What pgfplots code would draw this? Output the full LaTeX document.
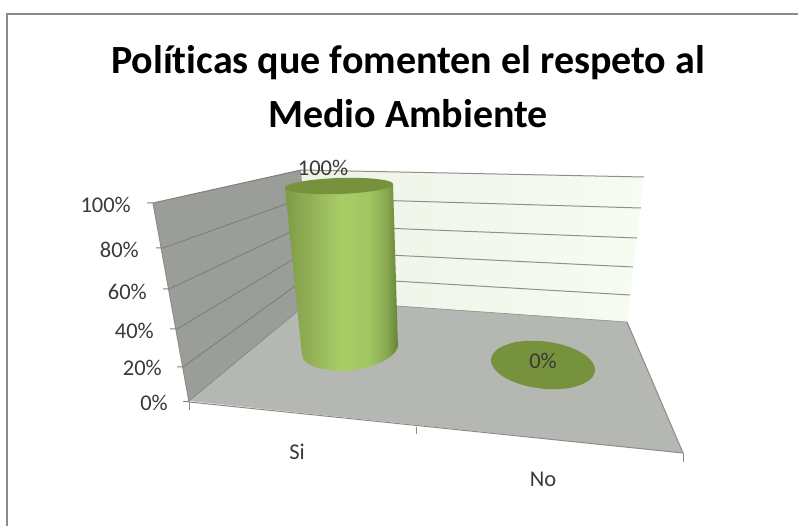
\documentclass[border=0pt]{standalone}
\usepackage{fontspec}
\setmainfont[Ligatures=NoCommon]{Carlito}
\usepackage{pgfplots}
\pgfplotsset{compat=1.18}
\definecolor{frameline}{HTML}{8C8C8C}
\definecolor{edgegray}{HTML}{8A8C88}
\definecolor{floorgray}{HTML}{B5B7B2}
\definecolor{wallgray}{HTML}{9B9D99}
\definecolor{wallline}{HTML}{7F817D}
\definecolor{backline}{HTML}{8E908C}
\definecolor{capgreen}{HTML}{76923C}
\definecolor{labeltext}{HTML}{3A3A3A}
\definecolor{cylA}{HTML}{7D9B46}
\definecolor{cylB}{HTML}{94B358}
\definecolor{cylD}{HTML}{A9CD66}
\definecolor{cylE}{HTML}{A2C661}
\definecolor{cylF}{HTML}{87A84F}
\definecolor{cylG}{HTML}{658434}
\definecolor{backA}{HTML}{EEF3E8}
\definecolor{backB}{HTML}{F6FCF1}
\pgfdeclarehorizontalshading{cylgreen}{100bp}{
  color(0bp)=(cylA);
  color(25bp)=(cylA);
  color(37bp)=(cylB);
  color(50bp)=(cylD);
  color(62bp)=(cylE);
  color(70bp)=(cylF);
  color(75bp)=(cylG);
  color(100bp)=(cylG)}
\pgfdeclarehorizontalshading{backwall}{100bp}{
  color(0bp)=(backA);
  color(25bp)=(backA);
  color(75bp)=(backB);
  color(100bp)=(backB)}
\tikzset{lbl/.style={font=\fontsize{22.5}{27}\selectfont, text=labeltext, inner sep=0pt}}
\begin{document}
\begin{tikzpicture}
\begin{axis}[
  scale only axis, width=798pt, height=526pt,
  xmin=0, xmax=798, ymin=0, ymax=526, y dir=reverse,
  axis lines=none,
]
% page background fixes the extent of the picture
\addplot[draw=none, fill=white] coordinates {(0,0) (798,0) (798,526) (0,526) (0,0)};
% chart frame: only the top and left sides are visible
\addplot[frameline, line width=2.4pt] coordinates {(7,526) (7,14) (798,14)};

% back wall, side wall and floor
\addplot[draw=none, shading=backwall] coordinates {(301,170) (644,177) (627,322) (311,300) (301,170)};
\addplot[draw=none, fill=wallgray] coordinates {(153,203) (301,170) (311,300) (189,401) (153,203)};
\addplot[draw=none, fill=floorgray] coordinates {(189,401) (311,300) (627,322) (683,453) (189,401)};

% back wall gridlines, 100% down to 20%
\addplot[backline, line width=1pt] coordinates {(301,170) (644,177)};
\addplot[backline, line width=1pt] coordinates {(303,198) (641,208)};
\addplot[backline, line width=1pt] coordinates {(305,225) (637,238)};
\addplot[backline, line width=1pt] coordinates {(307,251) (633,267)};
\addplot[backline, line width=1pt] coordinates {(309,276) (630,295)};
\addplot[backline, line width=0.6pt] coordinates {(311,300) (627,322)};

% side wall gridlines with their ticks
\addplot[wallline, line width=1pt] coordinates {(147,203) (153,203) (301,170)};
\addplot[wallline, line width=1pt] coordinates {(156,248) (163,248) (303,198)};
\addplot[wallline, line width=1pt] coordinates {(163,289) (169,289) (305,225)};
\addplot[wallline, line width=1pt] coordinates {(170,329) (177,329) (307,251)};
\addplot[wallline, line width=1pt] coordinates {(177,367) (183,367) (309,276)};
\addplot[wallline, line width=1pt] coordinates {(183,402) (189,402)};

% outer edges and the category ticks
\addplot[edgegray, line width=1pt] coordinates {(153,203) (189,402) (683,453) (627,322)};
\addplot[edgegray, line width=1pt] coordinates {(189,402) (189,410)};
\addplot[edgegray, line width=1pt] coordinates {(416,427) (416,434)};
\addplot[edgegray, line width=1pt] coordinates {(683,453) (683,462)};
\addplot[wallline, line width=0.6pt] coordinates {(189,401) (311,300)};

% "Si" = 100: body outline, rim offset from a base at y=352 with 1.66 px per percent
\addplot[draw=none, shading=cylgreen]
  table[x=x, y expr=352-1.66*\thisrow{value}+\thisrow{off}] {
  x    off   value
  285  2     100
  302  3     0
  303.5 7.5  0
  307  11    0
  313  14.3  0
  320  16.5  0
  330  18.3  0
  340  19    0
  349  18.6  0
  357  17.5  0
  365  15.8  0
  373  13.5  0
  382  9.8   0
  390  5     0
  395  0.5   0
  398  -5    0
  393  -2    100
  285  2     100
};
\addplot[draw=none, fill=capgreen, smooth cycle, tension=0.6] coordinates {
  (393,184) (386.3,188.3) (366.9,191.9) (340,194) (312.9,193.9) (292.7,191.7)
  (285,188) (291.7,183.7) (311.1,180.1) (338,178) (365.1,178.1) (385.3,180.3)};

% "No" = 0: only the flat base remains
\addplot[draw=none, fill=capgreen, smooth cycle, tension=0.6] coordinates {
  (595,368.5) (589.5,380) (571.6,387.6) (546,389) (519.6,384) (499.5,374)
  (491,361.5) (496.5,350) (514.4,342.4) (540,341) (566.4,346) (586.5,356)};

% title
\node[align=center, text=black, inner sep=0pt, font=\fontsize{40}{54}\selectfont\bfseries] at (axis cs:408,87)
  {Políticas que fomenten el respeto al\\Medio Ambiente};

% value axis labels
\node[lbl, anchor=east] at (axis cs:131,205) {100\%};
\node[lbl, anchor=east] at (axis cs:139,250) {80\%};
\node[lbl, anchor=east] at (axis cs:147,292) {60\%};
\node[lbl, anchor=east] at (axis cs:154,331) {40\%};
\node[lbl, anchor=east] at (axis cs:162,368) {20\%};
\node[lbl, anchor=east] at (axis cs:168,403) {0\%};

% data labels and categories
\node[lbl] at (axis cs:323,168) {100\%};
\node[lbl] at (axis cs:543,361) {0\%};
\node[lbl] at (axis cs:297,452) {Si};
\node[lbl] at (axis cs:543,479) {No};
\end{axis}
\end{tikzpicture}
\end{document}
